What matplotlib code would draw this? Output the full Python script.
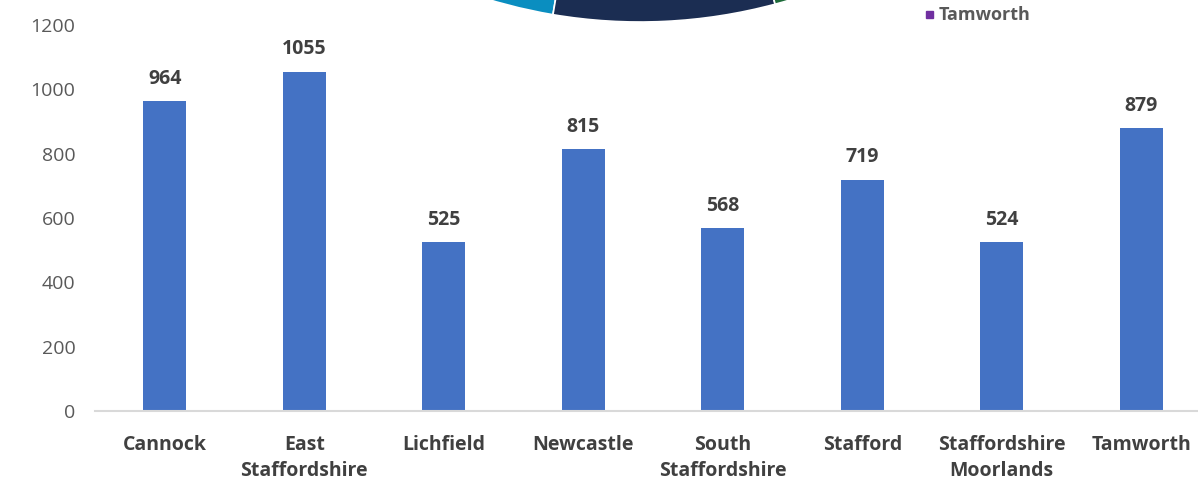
import matplotlib
matplotlib.use("Agg")
from matplotlib import pyplot as plt
from matplotlib.patches import Wedge

districts = ["Cannock", "East\nStaffordshire", "Lichfield", "Newcastle",
             "South\nStaffordshire", "Stafford", "Staffordshire\nMoorlands", "Tamworth"]
counts = [964, 1055, 525, 815, 568, 719, 524, 879]
y_ticks = [0, 200, 400, 600, 800, 1000, 1200]

plt.rcParams['font.family'] = ['Open Sans', 'DejaVu Sans']

fig = plt.figure(figsize=(11.98, 4.8), dpi=100)

# fragment of a pie chart sitting above the crop (decoration)
deco = fig.add_axes([0, 0, 1, 1])
deco.set_xlim(0, 1198)
deco.set_ylim(480, 0)
deco.axis("off")
cx, cy, r = 640, -500, 522
for t1, t2, col in [(240, 260.4, "#0a8ec0"), (260.4, 285, "#1b2d52"), (285, 300, "#1e6b3a")]:
        deco.add_patch(Wedge((cx, cy), r, -t2, -t1, facecolor=col, edgecolor="white", lw=1.2))
deco.add_patch(plt.Rectangle((926, 11), 7, 7, color="#7030a0"))
deco.text(939, 15, "Tamworth", fontsize=13, fontweight="bold", color="#595959", va="center")

ax = fig.add_axes([95 / 1198, 1 - 411 / 480, 1116 / 1198, 386 / 480])
x = range(len(districts))
bars = ax.bar(x, counts, width=0.31, color="#4472c4")
for xi, v in zip(x, counts):
        ax.text(xi, v + 38, str(v), ha="center", va="bottom", fontsize=14,
                fontweight="bold", color="#404040")

ax.set_ylim(0, 1200)
ax.set_xlim(-0.5, len(districts) - 0.5)
ax.set_yticks(y_ticks)
ax.set_xticks(list(x))
ax.set_xticklabels(districts, fontsize=14, fontweight="bold", color="#404040", linespacing=1.45)
ax.tick_params(axis="y", length=0, labelsize=14, labelcolor="#595959", pad=14)
ax.tick_params(axis="x", length=0, pad=17)
for s in ["top", "right", "left"]:
        ax.spines[s].set_visible(False)
ax.spines["bottom"].set_color("#d9d9d9")
ax.spines["bottom"].set_linewidth(1.5)

fig.savefig("out.png", dpi=100)
